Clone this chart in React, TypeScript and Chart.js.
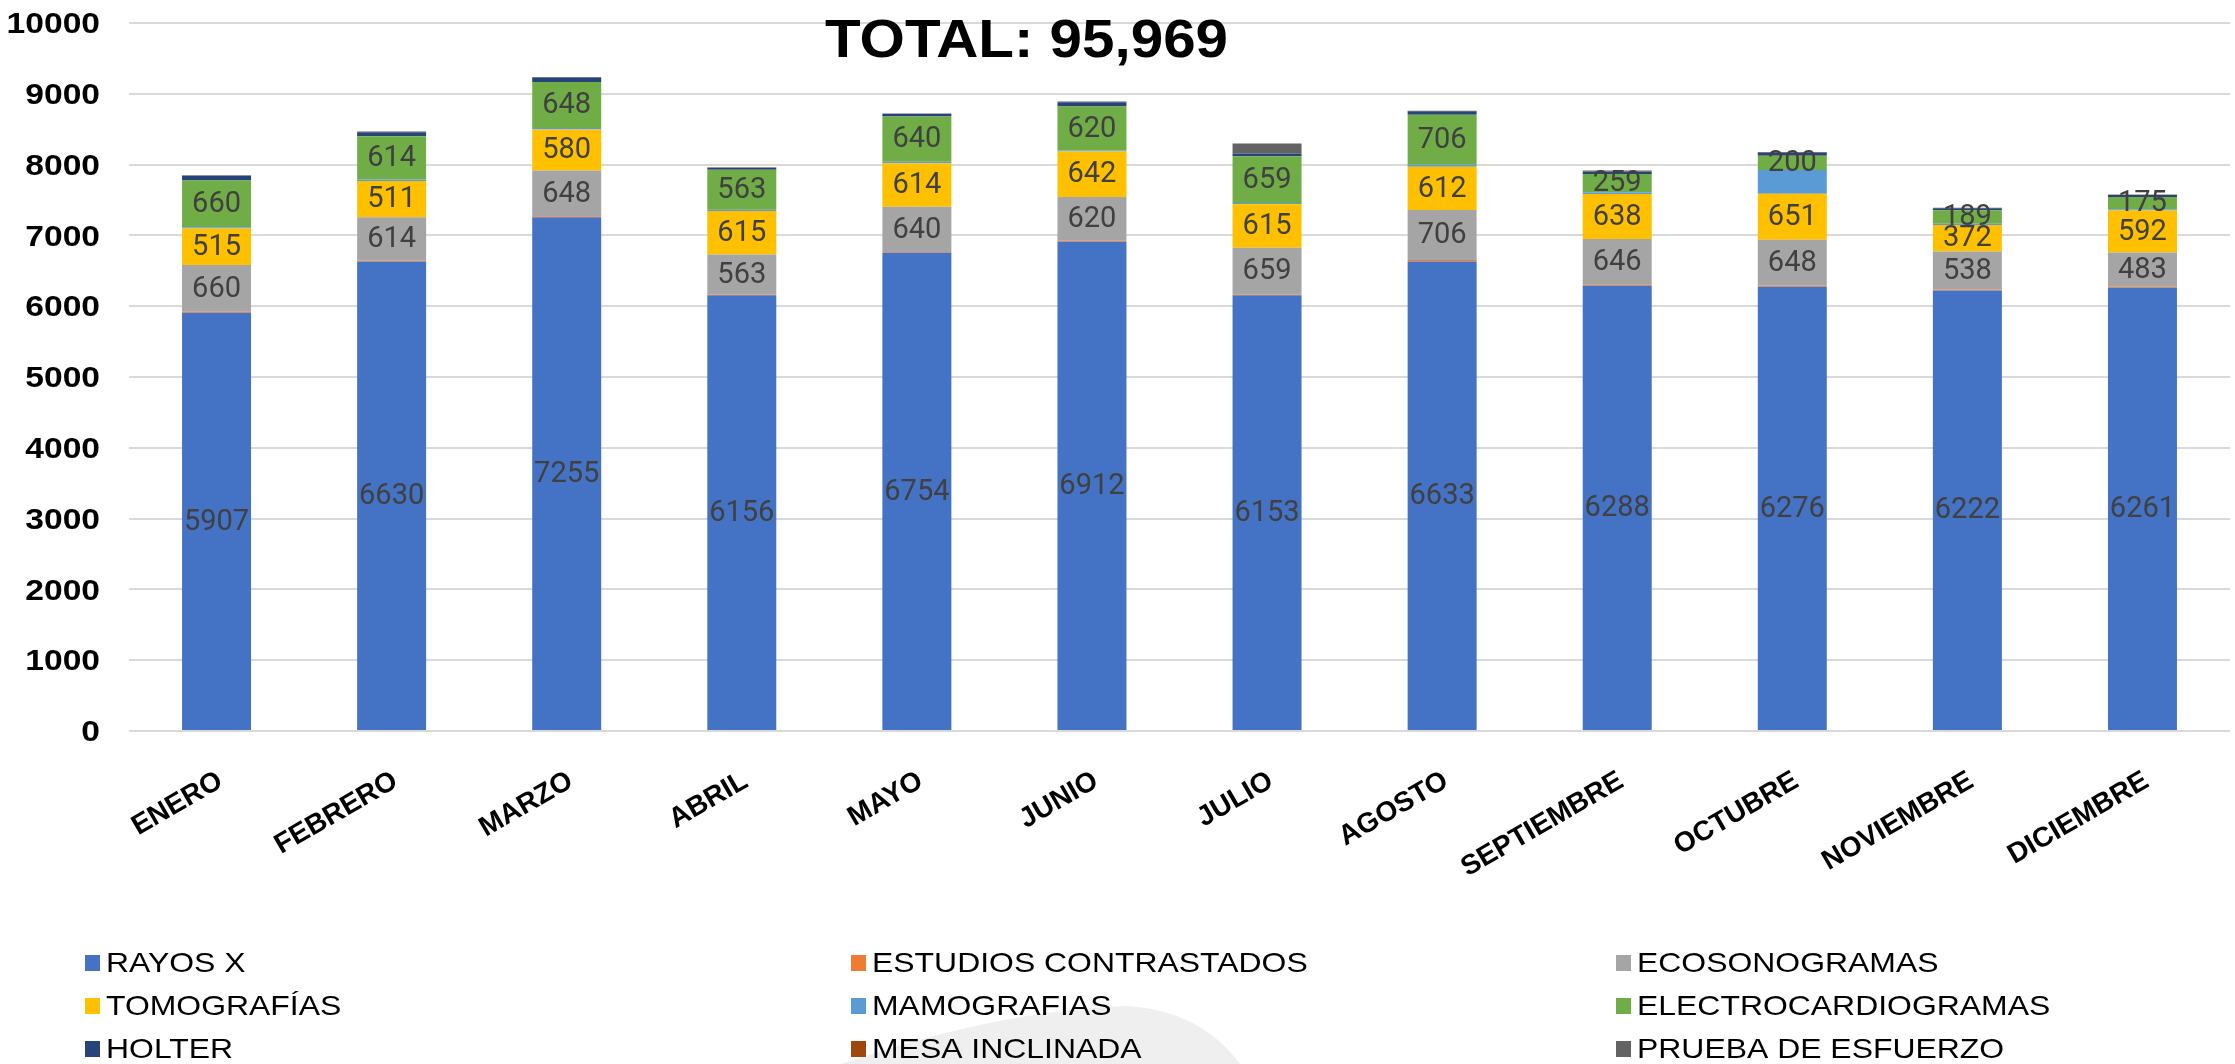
import React, { useEffect, useRef } from "react";
import { Chart, registerables } from "chart.js";

Chart.register(...registerables);

const months = ["ENERO", "FEBRERO", "MARZO", "ABRIL", "MAYO", "JUNIO", "JULIO", "AGOSTO", "SEPTIEMBRE", "OCTUBRE", "NOVIEMBRE", "DICIEMBRE"];
const rayosX = [5907, 6630, 7255, 6156, 6754, 6912, 6153, 6633, 6288, 6276, 6222, 6261];
const estudiosContrastados = [14, 14, 14, 10, 12, 12, 12, 20, 14, 14, 14, 14];
const ecosonogramas = [660, 614, 648, 563, 640, 620, 659, 706, 646, 648, 538, 483];
const tomografias = [515, 511, 580, 615, 614, 642, 615, 612, 638, 651, 372, 592];
const mamografias = [20, 19, 20, 20, 20, 14, 20, 28, 22, 335, 19, 18];
const electrocardiogramas = [660, 614, 648, 563, 640, 620, 659, 706, 259, 200, 189, 175];
const holter = [66, 56, 60, 30, 33, 61, 38, 47, 35, 42, 30, 28];
const mesaInclinada = [2, 2, 3, 2, 2, 3, 2, 2, 3, 3, 2, 2];
const pruebaEsfuerzo = [5, 6, 8, 5, 6, 6, 141, 6, 10, 8, 5, 5];
const yTicks = [0, 1000, 2000, 3000, 4000, 5000, 6000, 7000, 8000, 9000, 10000];
const titleText = "TOTAL: 95,969";

const seriesNames = ["RAYOS X", "ESTUDIOS CONTRASTADOS", "ECOSONOGRAMAS", "TOMOGRAFÍAS", "MAMOGRAFIAS", "ELECTROCARDIOGRAMAS", "HOLTER", "MESA INCLINADA", "PRUEBA DE ESFUERZO"];
const seriesColors = ["#4472C4", "#ED7D31", "#A5A5A5", "#FFC000", "#5B9BD5", "#70AD47", "#264478", "#9E480E", "#636363"];
const seriesData = [rayosX, estudiosContrastados, ecosonogramas, tomografias, mamografias, electrocardiogramas, holter, mesaInclinada, pruebaEsfuerzo];
const labelledSeries = [0, 2, 3, 5];

const W = 2235;
const H = 1064;
const FONT = "'Liberation Sans', Arial, sans-serif";

const overlayPlugin = {
  id: "overlay",
  beforeDraw(chart: any) {
    const ctx = chart.ctx;
    ctx.save();
    ctx.fillStyle = "#ffffff";
    ctx.fillRect(0, 0, W, H);
    // faint watermark shape
    ctx.fillStyle = "#efefef";
    ctx.beginPath();
    ctx.moveTo(841, H);
    ctx.quadraticCurveTo(1000, 1010, 1126, 1006);
    ctx.quadraticCurveTo(1200, 1010, 1240, H);
    ctx.closePath();
    ctx.fill();
    ctx.restore();
  },
  afterDatasetsDraw(chart: any) {
    const ctx = chart.ctx;
    ctx.save();
    ctx.font = "29px Roboto";
    ctx.fillStyle = "#404040";
    ctx.textAlign = "center";
    ctx.textBaseline = "middle";
    labelledSeries.forEach((di) => {
      const meta = chart.getDatasetMeta(di);
      meta.data.forEach((el: any, i: number) => {
        const v = chart.data.datasets[di].data[i];
        ctx.fillText(String(v), el.x, (el.y + el.base) / 2 + 1);
      });
    });
    ctx.restore();
  },
  afterDraw(chart: any) {
    const ctx = chart.ctx;
    const yScale = chart.scales.y;
    const xScale = chart.scales.x;
    ctx.save();

    // y tick labels
    ctx.font = `bold 30px ${FONT}`;
    ctx.fillStyle = "#000000";
    ctx.textAlign = "right";
    ctx.textBaseline = "middle";
    yTicks.forEach((v) => {
      const y = yScale.getPixelForValue(v);
      ctx.save();
      ctx.translate(100, y + 2);
      ctx.scale(1.12, 1);
      ctx.fillText(String(v), 0, 0);
      ctx.restore();
    });

    // x tick labels (rotated)
    ctx.font = `bold 28px ${FONT}`;
    ctx.textAlign = "right";
    ctx.textBaseline = "middle";
    const ang = (-30 * Math.PI) / 180;
    months.forEach((m, i) => {
      const x = xScale.getPixelForValue(i);
      ctx.save();
      ctx.translate(x + 4, chart.chartArea.bottom + 48);
      ctx.rotate(ang);
      ctx.fillText(m, 0, 0);
      ctx.restore();
    });

    // title
    ctx.font = `bold 54px ${FONT}`;
    ctx.textBaseline = "alphabetic";
    ctx.textAlign = "left";
    const tw = ctx.measureText(titleText).width;
    ctx.save();
    ctx.translate(825, 57);
    ctx.scale(403 / tw, 1);
    ctx.fillText(titleText, 0, 0);
    ctx.restore();

    // legend
    const colX = [85, 851, 1616];
    const rowY = [963, 1006, 1049];
    ctx.font = `28px ${FONT}`;
    ctx.textBaseline = "middle";
    seriesNames.forEach((name, i) => {
      const cx = colX[i % 3];
      const cy = rowY[Math.floor(i / 3)];
      ctx.fillStyle = seriesColors[i];
      ctx.fillRect(cx, cy - 8, 15, 16);
      ctx.fillStyle = "#000000";
      ctx.save();
      ctx.translate(cx + 21, cy + 1);
      ctx.scale(1.14, 1);
      ctx.fillText(name, 0, 0);
      ctx.restore();
    });
    ctx.restore();
  },
};

export default function App() {
  const ref = useRef<HTMLCanvasElement | null>(null);
  useEffect(() => {
    document.body.style.margin = "0";
    document.body.style.overflow = "hidden";
    const canvas = ref.current;
    if (!canvas) return;
    const chart = new Chart(canvas, {
      type: "bar",
      data: {
        labels: months,
        datasets: seriesNames.map((name, i) => ({
          label: name,
          data: seriesData[i],
          backgroundColor: seriesColors[i],
          borderWidth: 0,
          barPercentage: 0.4,
          categoryPercentage: 0.985,
        })),
      },
      options: {
        responsive: false,
        animation: false,
        devicePixelRatio: 1,
        layout: { padding: { top: 23, right: 5, left: 0, bottom: 0 } },
        plugins: {
          legend: { display: false },
          title: { display: false },
          tooltip: { enabled: false },
        },
        scales: {
          x: {
            stacked: true,
            grid: { display: false, drawTicks: false },
            border: { display: false },
            ticks: { display: false },
            afterFit(scale: any) {
              scale.height = H - 731;
              scale.paddingLeft = 0;
              scale.paddingRight = 0;
            },
          },
          y: {
            stacked: true,
            min: 0,
            max: 10000,
            afterBuildTicks(scale: any) {
              scale.ticks = yTicks.map((v) => ({ value: v }));
            },
            grid: { color: "#d9d9d9", lineWidth: 2, drawTicks: false },
            border: { display: false },
            ticks: { display: false },
            afterFit(scale: any) {
              scale.width = 129;
              scale.paddingTop = 0;
              scale.paddingBottom = 0;
            },
          },
        },
      },
      plugins: [overlayPlugin],
    } as any);
    return () => chart.destroy();
  }, []);
  return <canvas ref={ref} width={W} height={H} style={{ display: "block" }} />;
}
